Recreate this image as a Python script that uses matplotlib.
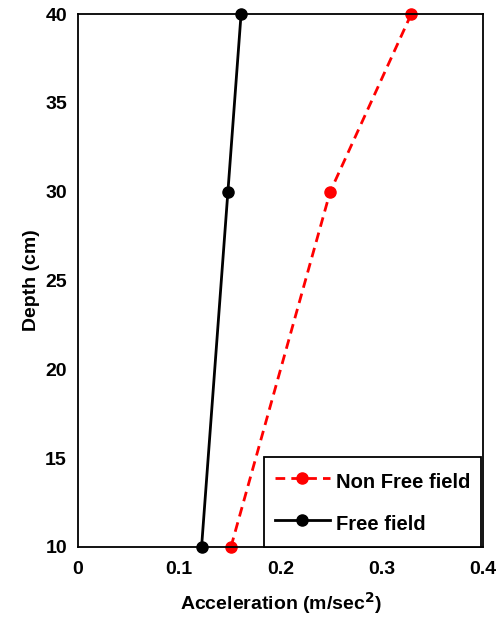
import matplotlib
matplotlib.use('Agg')
import matplotlib.pyplot as plt

plt.rcParams['font.family'] = ['Liberation Sans', 'DejaVu Sans']
plt.rcParams['font.weight'] = 'bold'

depth = [10, 30, 40]
non_free_field = [0.151, 0.249, 0.329]
free_field = [0.122, 0.148, 0.161]

fig = plt.figure(figsize=(4.97, 6.17), dpi=100)
ax = fig.add_axes([0.157, 0.1135, 0.815, 0.8635])

ax.plot(non_free_field, depth, color='#ff0000', linestyle=(0, (3.5, 2.2)), linewidth=2,
        marker='o', markersize=8, label='Non Free field', clip_on=False)
ax.plot(free_field, depth, color='black', linewidth=2,
        marker='o', markersize=8, label='Free field', clip_on=False)

ax.set_xlim(0, 0.4)
ax.set_ylim(10, 40)
ax.set_xticks([0, 0.1, 0.2, 0.3, 0.4])
ax.set_xticklabels(['0', '0.1', '0.2', '0.3', '0.4'])
ax.set_yticks([10, 15, 20, 25, 30, 35, 40])
ax.tick_params(length=0, labelsize=14)
ax.tick_params(axis='x', pad=10)
ax.tick_params(axis='y', pad=8)
for s in ax.spines.values():
    s.set_linewidth(1.3)

ax.set_xlabel('Acceleration (m/sec$^\\mathbf{2}$)', fontsize=14, fontweight='bold', labelpad=9)
ax.set_ylabel('Depth (cm)', fontsize=14, fontweight='bold', labelpad=4)

leg = ax.legend(loc='lower right', bbox_to_anchor=(0.995, 0.0), fontsize=14.5,
                frameon=True, fancybox=False, edgecolor='black', handlelength=2.7,
                handleheight=1.6, borderpad=0.55, labelspacing=0.8, handletextpad=0.3,
                borderaxespad=0, framealpha=1)
leg.get_frame().set_linewidth(1.3)

fig.savefig('out.png', dpi=100)
